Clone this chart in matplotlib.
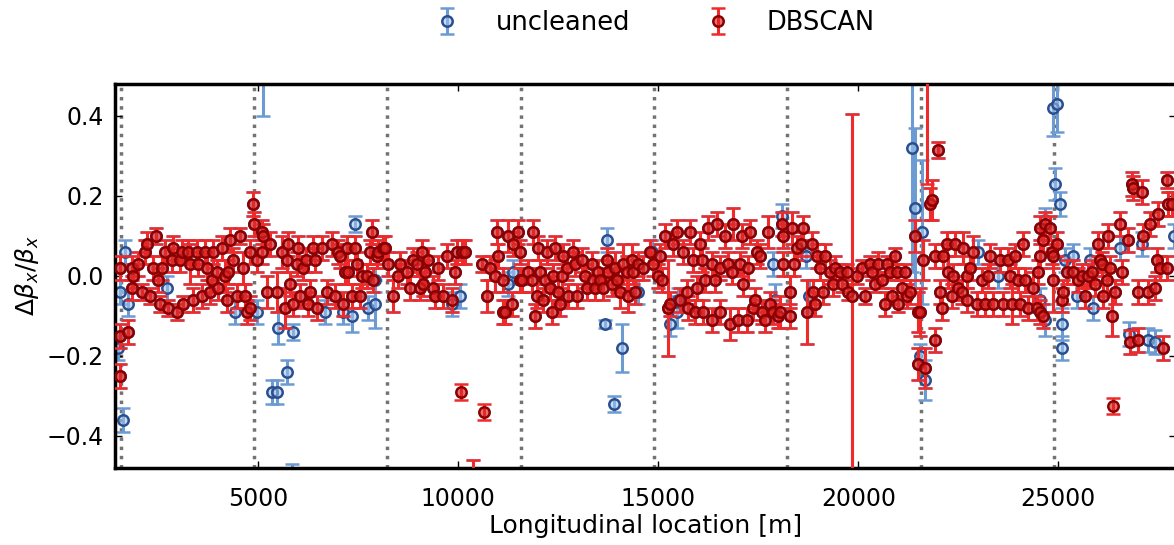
import numpy as np
import matplotlib
matplotlib.use('Agg')
import matplotlib.pyplot as plt

# octant boundaries (dotted lines)
octant_edges = [1568, 4900, 8233, 11565, 14898, 18230, 21563, 24895]

# BPMs kept by DBSCAN (drawn in both series)
s_both = [
    1550, 1550, 1550, 1750, 1850, 1850, 1875, 2000, 2100, 2175, 2225, 2300, 2375, 2450, 2500, 2550, 2600, 2675, 2750, 2850,
    2875, 2975, 3050, 3100, 3125, 3250, 3300, 3375, 3475, 3500, 3600, 3675, 3725, 3800, 3850, 3875, 3975, 4000, 4100, 4175,
    4225, 4250, 4300, 4375, 4475, 4550, 4625, 4675, 4725, 4800, 4800, 4875, 4900,
    4975, 5100, 5100, 5125, 5225, 5300, 5475, 5600, 5675, 5725, 5750, 5800, 5875, 5975, 6000, 6050, 6125, 6200, 6250, 6300,
    6375, 6425, 6475, 6600, 6725, 6850, 6925, 7000, 7050, 7125, 7175, 7225, 7250, 7350, 7425, 7475, 7550, 7600, 7725, 7800,
    7850, 7875, 7975, 8000, 8125, 8175,
    8250, 8375, 8500, 8550, 8725, 8800, 8875, 8975, 9050, 9100, 9125, 9175, 9250, 9375, 9425, 9500, 9625, 9725, 9850, 9925,
    9975, 10100, 10175, 10375, 10600, 10725, 10800, 10925, 10975, 11000, 11125, 11125, 11175, 11250, 11350, 11375, 11500,
    11550, 11550,
    11600, 11750, 11850, 11875, 11925, 11975, 12000, 12050, 12125, 12175, 12225, 12300, 12350, 12375, 12425, 12500, 12550,
    12600, 12625, 12725, 12750, 12875, 12925, 12975, 13100, 13175, 13225, 13350, 13375, 13425, 13500, 13550, 13625, 13725,
    13750, 13850, 13925, 13975, 14050, 14125, 14225, 14250, 14350, 14375, 14425, 14500, 14625, 14800, 14875, 15000, 15050,
    15100, 15175, 15250, 15300,
    15375, 15475, 15550, 15625, 15725, 15750, 15800, 15875, 15925, 15975, 16050, 16100, 16125, 16175, 16250, 16350, 16350,
    16425, 16475, 16550, 16550, 16675, 16750, 16800, 16850, 16875, 17000, 17050, 17100, 17125, 17225, 17250, 17300, 17375,
    17425, 17475, 17550, 17600, 17675, 17750, 17800, 17875, 18000, 18050, 18100, 18125, 18125, 18300, 18300, 18350, 18400,
    18475, 18575, 18625, 18725,
    18850, 18875, 18925, 18975, 19050, 19125, 19175, 19300, 19375, 19425, 19550, 19600, 19725, 19750, 19850, 19975, 20100,
    20175, 20300, 20350, 20425, 20500, 20600, 20675, 20725, 20800, 20850, 20925, 20975, 21000, 21100, 21175, 21225, 21300,
    21425, 21500, 21500, 21550, 21625, 21675, 21800, 21850,
    21925, 21925, 22000, 22050, 22100, 22125, 22225, 22250, 22350, 22375, 22425, 22500, 22600, 22625, 22725, 22725, 22800,
    22875, 22975, 23100, 23175, 23250, 23300, 23375, 23550, 23625, 23750, 23800, 23850, 23925, 24000, 24050, 24125, 24175,
    24250, 24375, 24475, 24500, 24550, 24550, 24550, 24625, 24625, 24675, 24800, 24850, 24875, 24875, 24975,
    25100, 25125, 25225, 25375, 25500, 25600, 25675, 25750, 25850, 25925, 26000, 26050, 26100, 26125, 26225, 26250, 26300,
    26350, 26425, 26550, 26600, 26750, 26800, 26850, 26875, 27000, 27000, 27100, 27125, 27250, 27300, 27425, 27475, 27500,
    27550, 27625, 27725, 27725, 27750, 27850,
]
dbeta_both = [
    0.02, -0.15, -0.25, -0.14, 0.02, -0.03, 0.00, 0.03, -0.04, 0.06, 0.08, -0.05, 0.02, 0.10, -0.01, -0.07, 0.02, 0.06, -0.08, 0.04,
    0.07, -0.09, 0.04, 0.06, -0.07, 0.06, 0.03, -0.06, 0.06, 0.03, -0.05, 0.06, 0.02, -0.04, -0.01, 0.06, 0.01, -0.03, 0.07, 0.00,
    -0.06, 0.01, 0.09, 0.04, -0.05, 0.10, 0.02, -0.05, -0.09, -0.08, 0.06, 0.18, 0.13,
    0.04, 0.11, 0.06, 0.10, -0.04, 0.08, -0.04, 0.06, -0.08, 0.04, 0.08, -0.02, -0.07, 0.03, 0.07, -0.05, 0.02, 0.04, -0.07, -0.04,
    0.07, 0.04, -0.08, 0.07, -0.04, 0.08, -0.05, 0.06, 0.05, -0.07, 0.01, 0.07, 0.01, -0.05, 0.07, 0.03, -0.05, 0.00, 0.00, 0.06,
    0.11, -0.01, 0.05, 0.06, 0.07, 0.07,
    0.03, -0.05, 0.00, 0.03, 0.01, -0.03, 0.04, 0.03, -0.03, 0.06, -0.02, 0.01, 0.04, -0.03, -0.05, 0.02, -0.05, 0.05, -0.06, 0.01,
    0.06, 0.06, 0.06, -0.50, 0.03, -0.05, 0.02, 0.00, 0.11, 0.05, -0.01, -0.09, -0.09, 0.10, -0.07, 0.08, 0.11,
    0.06, -0.01,
    -0.01, 0.01, -0.01, 0.11, -0.10, -0.05, 0.07, 0.01, -0.06, -0.01, 0.06, -0.03, -0.09, 0.00, 0.07, -0.04, -0.07,
    0.00, 0.05, 0.02, -0.05, 0.06, 0.03, -0.05, 0.04, 0.00, -0.03, 0.03, -0.01, -0.03, 0.01, -0.01, -0.03, 0.04,
    0.01, -0.02, 0.02, -0.01, -0.04, 0.03, 0.01, -0.05, 0.04, 0.01, -0.04, 0.03, 0.02, 0.06, 0.03, 0.00, 0.05,
    -0.01, 0.10, -0.08, -0.07,
    0.08, 0.11, -0.06, 0.06, -0.04, -0.08, 0.11, 0.04, -0.09, -0.03, 0.08, 0.04, -0.09, -0.01, 0.12, 0.03, -0.11,
    -0.01, 0.13, 0.02, -0.09, 0.10, 0.03, -0.12, 0.01, 0.13, -0.11, 0.03, 0.10, -0.02, -0.11, 0.02, 0.11, -0.08,
    -0.06, 0.06, 0.05, -0.09, -0.11, 0.11, -0.07, -0.09, -0.10, -0.09, 0.13, 0.10, 0.03, -0.04, -0.10, 0.12, 0.03,
    0.07, 0.08, 0.12, -0.09,
    0.08, -0.04, -0.07, 0.05, 0.02, -0.04, 0.05, 0.01, -0.02, 0.02, 0.01, -0.02, 0.01, -0.04, -0.05, 0.00, 0.02,
    -0.05, 0.03, 0.01, -0.02, 0.03, -0.01, -0.07, 0.03, 0.01, -0.05, 0.05, 0.01, -0.07, -0.03, 0.01, -0.05, -0.04,
    0.10, -0.09, -0.22, -0.09, 0.04, -0.23, 0.18, 0.19,
    0.05, -0.16, 0.315, -0.04, -0.08, 0.05, 0.08, 0.01, -0.05, 0.00, 0.08, -0.03, -0.04, 0.07, 0.00, -0.06, 0.02,
    0.06, -0.07, -0.01, -0.07, 0.00, 0.05, -0.07, 0.04, -0.07, 0.04, 0.00, -0.07, 0.05, -0.01, -0.07, 0.08, -0.01,
    -0.08, -0.03, -0.08, 0.01, 0.05, -0.09, 0.12, -0.10, 0.09, 0.13, 0.12, 0.06, 0.05, -0.01, 0.08,
    -0.06, -0.04, 0.01, 0.01, -0.01, 0.00, -0.05, 0.00, 0.01, -0.02, 0.08, 0.04, 0.03, -0.05, -0.01, 0.10, 0.02,
    -0.10, -0.04, 0.13, 0.01, 0.09, -0.165, 0.23, 0.22, -0.04, -0.16, 0.21, 0.10, -0.04, 0.13, -0.03, 0.04, 0.155,
    0.02, -0.18, 0.02, 0.24, 0.18, 0.18,
]
err_both = [
    0.03, 0.03, 0.03, 0.03, 0.03, 0.03, 0.03, 0.03, 0.02, 0.03, 0.03, 0.02, 0.03, 0.02, 0.03, 0.02, 0.03, 0.03, 0.02, 0.03,
    0.03, 0.02, 0.03, 0.03, 0.02, 0.03, 0.05, 0.03, 0.03, 0.03, 0.03, 0.03, 0.03, 0.03, 0.03, 0.03, 0.03, 0.03, 0.03, 0.04,
    0.03, 0.03, 0.03, 0.03, 0.03, 0.02, 0.04, 0.03, 0.03, 0.03, 0.03, 0.03, 0.03,
    0.03, 0.03, 0.03, 0.03, 0.04, 0.03, 0.05, 0.04, 0.05, 0.03, 0.03, 0.03, 0.03, 0.03, 0.03, 0.03, 0.03, 0.03, 0.03, 0.03,
    0.03, 0.03, 0.03, 0.03, 0.03, 0.03, 0.03, 0.03, 0.03, 0.03, 0.03, 0.03, 0.03, 0.03, 0.03, 0.03, 0.03, 0.03, 0.03, 0.03,
    0.03, 0.03, 0.03, 0.03, 0.03, 0.03,
    0.03, 0.04, 0.03, 0.03, 0.03, 0.03, 0.03, 0.03, 0.03, 0.03, 0.03, 0.03, 0.03, 0.03, 0.03, 0.03, 0.03, 0.03, 0.03, 0.03,
    0.03, 0.03, 0.03, 0.04, 0.02, 0.04, 0.03, 0.04, 0.03, 0.03, 0.03, 0.03, 0.03, 0.04, 0.03, 0.03, 0.03,
    0.03, 0.03,
    0.03, 0.03, 0.03, 0.03, 0.03, 0.03, 0.03, 0.03, 0.03, 0.03, 0.03, 0.03, 0.03, 0.03, 0.03, 0.03, 0.03,
    0.03, 0.03, 0.03, 0.03, 0.03, 0.03, 0.03, 0.03, 0.03, 0.03, 0.03, 0.03, 0.03, 0.03, 0.03, 0.03, 0.03,
    0.03, 0.03, 0.04, 0.03, 0.04, 0.05, 0.04, 0.04, 0.04, 0.03, 0.03, 0.03, 0.03, 0.03, 0.03, 0.03, 0.03,
    0.03, 0.03, 0.12, 0.03,
    0.03, 0.03, 0.03, 0.03, 0.03, 0.03, 0.03, 0.03, 0.03, 0.03, 0.03, 0.03, 0.03, 0.03, 0.03, 0.03, 0.03,
    0.03, 0.03, 0.03, 0.03, 0.03, 0.03, 0.04, 0.03, 0.04, 0.03, 0.03, 0.03, 0.03, 0.03, 0.03, 0.03, 0.03,
    0.03, 0.03, 0.03, 0.03, 0.03, 0.04, 0.03, 0.03, 0.03, 0.04, 0.03, 0.03, 0.03, 0.04, 0.03, 0.04, 0.03,
    0.03, 0.03, 0.03, 0.08,
    0.03, 0.03, 0.03, 0.03, 0.03, 0.03, 0.03, 0.03, 0.03, 0.03, 0.02, 0.02, 0.02, 0.02, 0.455, 0.02, 0.02,
    0.02, 0.02, 0.02, 0.02, 0.03, 0.02, 0.03, 0.02, 0.02, 0.02, 0.02, 0.02, 0.02, 0.02, 0.02, 0.03, 0.03,
    0.04, 0.05, 0.04, 0.06, 0.05, 0.05, 0.04, 0.05,
    0.03, 0.03, 0.02, 0.03, 0.03, 0.03, 0.03, 0.04, 0.03, 0.03, 0.03, 0.03, 0.03, 0.04, 0.03, 0.03, 0.03,
    0.04, 0.03, 0.03, 0.03, 0.03, 0.03, 0.03, 0.03, 0.03, 0.03, 0.03, 0.05, 0.03, 0.03, 0.03, 0.03, 0.03,
    0.03, 0.04, 0.03, 0.03, 0.03, 0.03, 0.03, 0.03, 0.03, 0.03, 0.03, 0.03, 0.03, 0.08, 0.03,
    0.03, 0.03, 0.03, 0.03, 0.03, 0.03, 0.03, 0.03, 0.03, 0.03, 0.03, 0.03, 0.03, 0.03, 0.03, 0.03, 0.03,
    0.05, 0.03, 0.03, 0.03, 0.03, 0.03, 0.03, 0.03, 0.03, 0.03, 0.03, 0.03, 0.03, 0.03, 0.03, 0.03, 0.03,
    0.03, 0.03, 0.03, 0.02, 0.03, 0.03,
]

# BPMs only in the uncleaned data (removed by DBSCAN)
s_raw_only = [
    1500, 1550, 1625, 1675, 1750, 2725, 4425, 4975, 5125, 5350, 5475, 5500, 5725, 5850, 5875, 6675, 7125, 7350,
    7425, 7750, 7925, 7925, 9850, 10050, 11250, 11375, 13675, 13725, 13900, 14100, 14500, 14850, 15300, 15475,
    15500, 17875, 17925, 18100, 18700, 18775, 21350, 21425, 21550, 21600, 21675, 23000, 23500, 24550, 24675,
    24675, 24875, 24925, 24975, 25050, 25100, 25100, 25175, 25375, 25475, 25800, 25875, 26550, 26775, 27100,
    27250, 27425, 27900,
]
dbeta_raw_only = [
    -0.18, -0.04, -0.36, 0.06, -0.07, -0.03, -0.09, -0.09, 0.55, -0.29, -0.29, -0.13, -0.24, -0.50, -0.14, -0.09, -0.09, -0.10,
    0.13, -0.08, -0.07, -0.01, -0.07, -0.05, -0.02, 0.01, -0.12, 0.09, -0.32, -0.18, -0.04, 0.06, -0.12, -0.09,
    -0.06, 0.03, -0.06, 0.15, 0.05, -0.05, 0.32, 0.17, -0.20, 0.11, -0.26, 0.06, 0.00, -0.06, -0.11,
    0.14, 0.42, 0.23, 0.43, 0.18, -0.18, -0.12, 0.04, 0.05, -0.05, 0.04, -0.08, 0.07, -0.145, 0.08,
    -0.16, -0.165, 0.10,
]
err_raw_only = [
    0.03, 0.03, 0.03, 0.03, 0.03, 0.03, 0.03, 0.03, 0.15, 0.03, 0.03, 0.04, 0.03, 0.03, 0.02, 0.03, 0.03, 0.04,
    0.02, 0.03, 0.06, 0.03, 0.03, 0.03, 0.03, 0.03, 0.01, 0.03, 0.02, 0.06, 0.03, 0.03, 0.03, 0.04,
    0.03, 0.03, 0.04, 0.03, 0.03, 0.04, 0.31, 0.20, 0.03, 0.18, 0.05, 0.03, 0.03, 0.03, 0.04,
    0.03, 0.07, 0.04, 0.07, 0.03, 0.03, 0.04, 0.03, 0.03, 0.03, 0.03, 0.03, 0.03, 0.03, 0.03,
    0.03, 0.03, 0.03,
]

# BPM values that differ after DBSCAN cleaning
s_dbscan_only = [10075, 10650, 21725, 26375]
dbeta_dbscan_only = [-0.29, -0.34, 0.75, -0.325]
err_dbscan_only = [0.02, 0.02, 0.52, 0.02]

s_raw = s_both + s_raw_only
dbeta_raw = dbeta_both + dbeta_raw_only
err_raw = err_both + err_raw_only
s_db = s_both + s_dbscan_only
dbeta_db = dbeta_both + dbeta_dbscan_only
err_db = err_both + err_dbscan_only

fig = plt.figure(figsize=(11.74, 5.45), dpi=100)
ax = fig.add_axes([0.098, 0.142, 0.904, 0.704])

for s0 in octant_edges:
    ax.axvline(s0, color='0.45', linestyle=':', linewidth=2.5, zorder=1)

ax.errorbar(s_raw, dbeta_raw, yerr=err_raw, fmt='o', ms=7.5, mfc=(0.62, 0.76, 0.92, 0.55), mec='#2b4f8e',
            mew=1.8, ecolor='#6b9bd2', elinewidth=2.2, capsize=5, capthick=1.5, label='uncleaned', zorder=2)
ax.errorbar(s_db, dbeta_db, yerr=err_db, fmt='o', ms=7.5, mfc=(0.86, 0.15, 0.15, 0.65), mec='#8b0000',
            mew=1.8, ecolor='#ee2a2a', elinewidth=2.2, capsize=5, capthick=1.5, label='DBSCAN', zorder=3)

ax.set_xlim(1425, 27950)
ax.set_ylim(-0.48, 0.48)
ax.set_xticks([5000, 10000, 15000, 20000, 25000])
ax.set_yticks([-0.4, -0.2, 0.0, 0.2, 0.4])
ax.tick_params(direction='in', length=5, width=1, top=True, right=True, labelsize=17)
ax.tick_params(axis='x', pad=14)
ax.tick_params(axis='y', pad=8)
for sp in ax.spines.values():
    sp.set_linewidth(2.5)

ax.set_xlabel('Longitudinal location [m]', fontsize=18, labelpad=2)
ax.set_ylabel(r'$\Delta\beta_x/\beta_x$', fontsize=18)

fig.legend(ncol=2, loc='center', bbox_to_anchor=(0.552, 0.958), frameon=False, fontsize=18.5,
           columnspacing=2.4, handletextpad=0.9)

fig.savefig('out.png', dpi=100)
